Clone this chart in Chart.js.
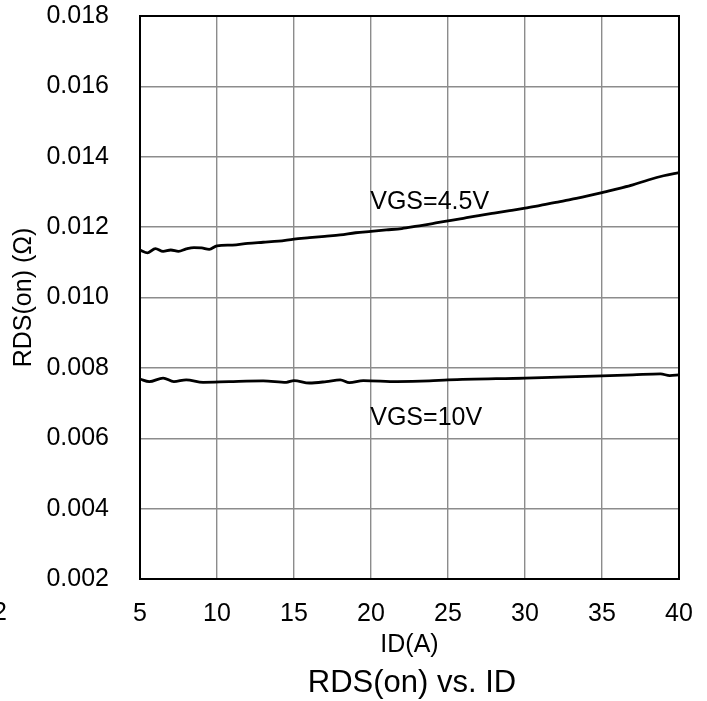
<!DOCTYPE html>
<html>
<head>
<meta charset="utf-8">
<script src="https://cdn.jsdelivr.net/npm/chart.js@4"></script>
<style>
html,body{margin:0;padding:0;background:#fff;}
canvas{display:block;}
</style>
</head>
<body>
<canvas id="c" width="707" height="701"></canvas>
<script>
// ---- data ----
const id45 = [5,5.5,6,6.5,7,7.5,8,8.5,9,9.5,10,11,12,13,14,15,16,17,18,19,20,21,22,23,24,25,26,27,28,29,30,31,32,33,34,35,36,37,38,39,40];
const rds45 = [0.01135,0.01127,0.01139,0.01131,0.01135,0.01131,0.01138,0.01142,0.01141,0.01137,0.01147,0.01149,0.01154,0.01157,0.01160,0.01166,0.01170,0.01174,0.01178,0.01184,0.01188,0.01192,0.01196,0.01203,0.01210,0.01218,0.01225,0.01233,0.01240,0.01247,0.01254,0.01262,0.01270,0.01279,0.01288,0.01298,0.01309,0.01320,0.01334,0.01346,0.01355];
const id10 = [5,5.6,6.5,7.2,8,9.1,10.8,13,14.5,15,16,17.1,18,18.6,19.5,21.7,23.8,25,30,35,37,38.8,39.4,40];
const rds10 = [0.00768,0.00761,0.00771,0.00761,0.00766,0.00759,0.00761,0.00763,0.00759,0.00764,0.00757,0.00761,0.00766,0.00758,0.00764,0.00761,0.00763,0.00766,0.00771,0.00777,0.00780,0.00783,0.00778,0.00780];
const xTicks = [5,10,15,20,25,30,35,40];
const yTicks = [0.002,0.004,0.006,0.008,0.010,0.012,0.014,0.016,0.018];
const seriesLabels = ['VGS=4.5V','VGS=10V'];
const labelAnchors = [[19.95,0.012508],[19.95,0.00638]];
const xTitle = 'ID(A)';
const yTitle = 'RDS(on) (Ω)';
const chartTitle = 'RDS(on) vs. ID';

const FONT = "'Liberation Sans', Arial, sans-serif";

const textPlugin = {
  id: 'texts',
  beforeDatasetsDraw(chart) {
    const {ctx, chartArea: a} = chart;
    ctx.save();
    ctx.strokeStyle = '#000';
    ctx.lineWidth = 2;
    ctx.strokeRect(a.left, a.top, a.right - a.left, a.bottom - a.top);
    ctx.restore();
  },
  afterDraw(chart) {
    const {ctx, chartArea: a, scales} = chart;
    ctx.save();
    ctx.fillStyle = '#000';
    ctx.textBaseline = 'alphabetic';
    ctx.font = '25px ' + FONT;
    ctx.textAlign = 'left';
    seriesLabels.forEach((t, i) => {
      ctx.fillText(t, scales.x.getPixelForValue(labelAnchors[i][0]), scales.y.getPixelForValue(labelAnchors[i][1]));
    });
    ctx.textAlign = 'center';
    ctx.fillText(xTitle, (a.left + a.right) / 2, 652);
    ctx.textAlign = 'right';
    ctx.fillText('2', 7, 620);
    ctx.save();
    ctx.translate(31, (a.top + a.bottom) / 2);
    ctx.rotate(-Math.PI / 2);
    ctx.textAlign = 'center';
    ctx.fillText(yTitle, 0, 0);
    ctx.restore();
    ctx.font = '31px ' + FONT;
    ctx.textAlign = 'center';
    ctx.fillText(chartTitle, 412, 692);
    ctx.restore();
  }
};

function zeroPad(s) { s.paddingLeft = 0; s.paddingRight = 0; s.paddingTop = 0; s.paddingBottom = 0; }

new Chart(document.getElementById('c'), {
  type: 'scatter',
  data: {
    datasets: [
      {
        label: seriesLabels[0],
        data: id45.map((x, i) => ({x, y: rds45[i]})),
        showLine: true, borderColor: '#000', borderWidth: 2.8, pointRadius: 0,
        cubicInterpolationMode: 'monotone', fill: false
      },
      {
        label: seriesLabels[1],
        data: id10.map((x, i) => ({x, y: rds10[i]})),
        showLine: true, borderColor: '#000', borderWidth: 2.8, pointRadius: 0,
        cubicInterpolationMode: 'monotone', fill: false
      }
    ]
  },
  options: {
    responsive: false,
    animation: false,
    events: [],
    layout: {padding: {top: 16, right: 28, left: 0, bottom: 0}},
    plugins: {legend: {display: false}, tooltip: {enabled: false}, title: {display: false}},
    scales: {
      x: {
        type: 'linear', min: 5, max: 40,
        afterBuildTicks: s => { s.ticks = xTicks.map(v => ({value: v})); },
        afterFit: s => { s.height = 122; zeroPad(s); },
        grid: {color: '#8c8c8c', lineWidth: 1.4, drawTicks: false},
        border: {display: false},
        ticks: {color: '#000', font: {family: FONT, size: 25}, padding: 20, maxRotation: 0, autoSkip: false,
          callback: v => String(v)}
      },
      y: {
        type: 'linear', min: 0.002, max: 0.018,
        afterBuildTicks: s => { s.ticks = yTicks.map(v => ({value: v})); },
        afterFit: s => { s.width = 140; zeroPad(s); },
        grid: {color: '#8c8c8c', lineWidth: 1.4, drawTicks: false},
        border: {display: false},
        ticks: {color: '#000', font: {family: FONT, size: 25}, padding: 31, autoSkip: false,
          callback: v => Number(v).toFixed(3)}
      }
    }
  },
  plugins: [textPlugin]
});
</script>
</body>
</html>
